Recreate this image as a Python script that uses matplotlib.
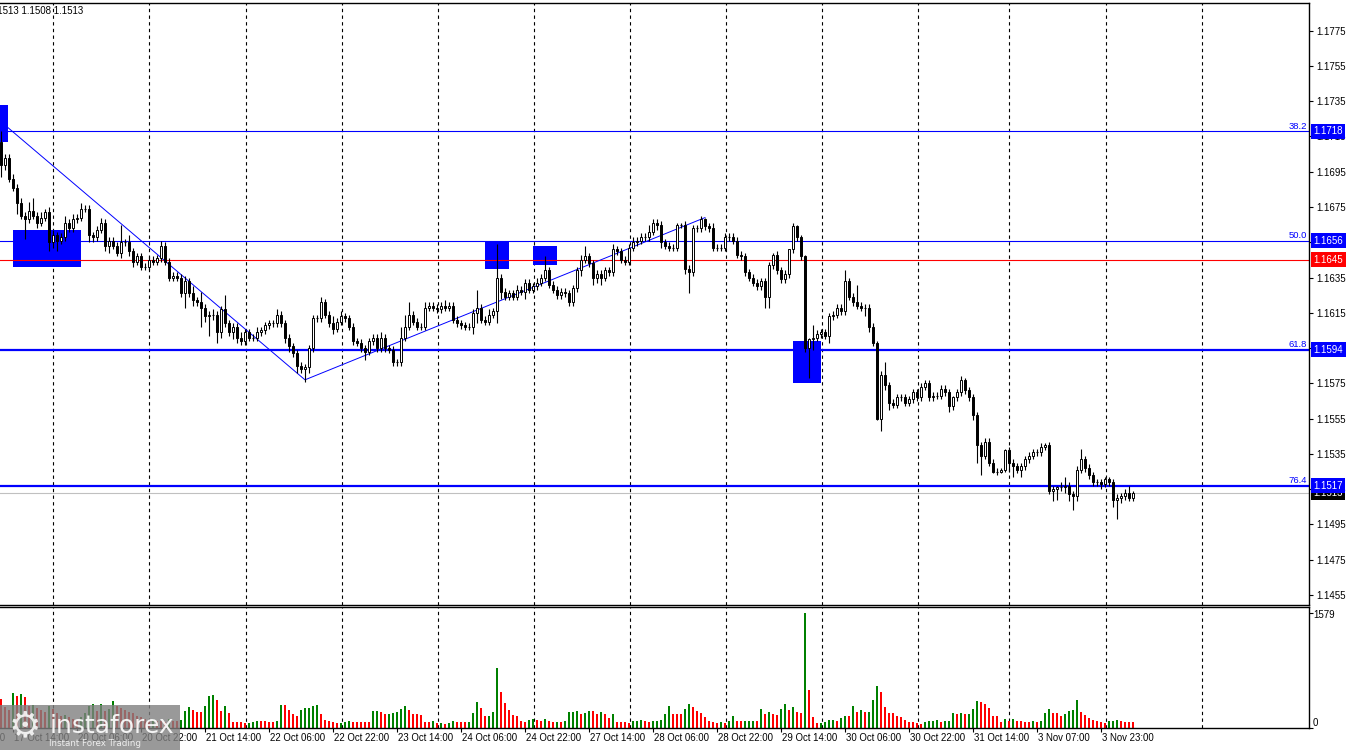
import numpy as np
import matplotlib
matplotlib.use("Agg")
import matplotlib.pyplot as plt
import matplotlib.transforms as mtrans
from matplotlib.patches import Rectangle

plt.rcParams['font.family'] = ['Liberation Sans', 'DejaVu Sans']

# ---------------- data (EURUSD H1) ----------------
first_open = 1.1712
close = [
    1.1699, 1.1703, 1.1691, 1.1686, 1.1677, 1.1670, 1.1668, 1.1673, 1.1670, 1.1666,
    1.1669, 1.1672, 1.1655, 1.1659, 1.1656, 1.1658, 1.1666, 1.1663, 1.1668, 1.1669,
    1.1674, 1.1674, 1.1659, 1.1658, 1.1662, 1.1666, 1.1653, 1.1656, 1.1653, 1.1649,
    1.1655, 1.1655, 1.1650, 1.1644, 1.1647, 1.1641, 1.1641, 1.1645, 1.1644, 1.1646,
    1.1653, 1.1644, 1.1635, 1.1636, 1.1635, 1.1626, 1.1633, 1.1626, 1.1622, 1.1621,
    1.1618, 1.1613, 1.1614, 1.1614, 1.1604, 1.1617, 1.1609, 1.1604, 1.1607, 1.1601,
    1.1599, 1.1604, 1.1601, 1.1601, 1.1604, 1.1605, 1.1608, 1.1609, 1.1609, 1.1614,
    1.1609, 1.1601, 1.1596, 1.1592, 1.1585, 1.1583, 1.1584, 1.1595, 1.1612, 1.1612,
    1.1621, 1.1614, 1.1609, 1.1606, 1.1610, 1.1613, 1.1612, 1.1607, 1.1599, 1.1598,
    1.1595, 1.1593, 1.1599, 1.1601, 1.1595, 1.1601, 1.1595, 1.1594, 1.1587, 1.1587,
    1.1601, 1.1607, 1.1614, 1.1610, 1.1607, 1.1607, 1.1618, 1.1619, 1.1618, 1.1617,
    1.1619, 1.1618, 1.1619, 1.1611, 1.1609, 1.1608, 1.1607, 1.1607, 1.1615, 1.1618,
    1.1611, 1.1610, 1.1614, 1.1616, 1.1635, 1.1627, 1.1624, 1.1626, 1.1624, 1.1628,
    1.1627, 1.1632, 1.1628, 1.1630, 1.1632, 1.1635, 1.1639, 1.1631, 1.1628, 1.1625,
    1.1627, 1.1626, 1.1621, 1.1629, 1.1639, 1.1645, 1.1647, 1.1643, 1.1635, 1.1637,
    1.1635, 1.1639, 1.1638, 1.1651, 1.1650, 1.1645, 1.1644, 1.1652, 1.1655, 1.1656,
    1.1658, 1.1658, 1.1661, 1.1666, 1.1665, 1.1655, 1.1653, 1.1652, 1.1652, 1.1665,
    1.1665, 1.1640, 1.1638, 1.1663, 1.1663, 1.1668, 1.1664, 1.1663, 1.1652, 1.1652,
    1.1652, 1.1658, 1.1658, 1.1656, 1.1648, 1.1647, 1.1638, 1.1635, 1.1632, 1.1630,
    1.1633, 1.1624, 1.1642, 1.1648, 1.1639, 1.1634, 1.1637, 1.1651, 1.1664, 1.1658,
    1.1647, 1.1595, 1.1600, 1.1601, 1.1603, 1.1604, 1.1602, 1.1613, 1.1614, 1.1618,
    1.1616, 1.1633, 1.1624, 1.1621, 1.1619, 1.1618, 1.1618, 1.1607, 1.1598, 1.1555,
    1.1580, 1.1574, 1.1564, 1.1563, 1.1567, 1.1567, 1.1564, 1.1566, 1.1570, 1.1567,
    1.1573, 1.1575, 1.1567, 1.1568, 1.1568, 1.1572, 1.1570, 1.1562, 1.1567, 1.1570,
    1.1577, 1.1571, 1.1567, 1.1557, 1.1540, 1.1534, 1.1542, 1.1530, 1.1525, 1.1525,
    1.1526, 1.1537, 1.1530, 1.1528, 1.1526, 1.1528, 1.1532, 1.1534, 1.1536, 1.1536,
    1.1539, 1.1540, 1.1514, 1.1515, 1.1516, 1.1516, 1.1517, 1.1512, 1.1511, 1.1526,
    1.1532, 1.1527, 1.1523, 1.1519, 1.1519, 1.1518, 1.1521, 1.1519, 1.1509, 1.1510,
    1.1511, 1.1513, 1.1510, 1.1513,
]
upper_wick_pips = [
    6, 2, 2, 3, 2, 3, 2, 5, 7, 2,   3, 2, 3, 3, 2, 2, 4, 2, 3, 2,
    3, 2, 2, 2, 2, 3, 2, 2, 2, 2,   10, 2, 4, 2, 2, 2, 2, 2, 2, 2,
    3, 2, 2, 2, 2, 2, 3, 2, 4, 2,   6, 2, 2, 3, 2, 2, 8, 2, 2, 2,
    3, 2, 2, 2, 3, 2, 2, 2, 2, 3,   2, 2, 2, 2, 2, 2, 2, 2, 2, 2,
    3, 2, 2, 4, 2, 3, 2, 2, 2, 2,   2, 2, 2, 2, 2, 3, 2, 2, 2, 2,
    6, 7, 7, 2, 2, 2, 3, 2, 2, 2,   2, 3, 2, 2, 2, 2, 2, 2, 2, 10,
    2, 2, 3, 2, 19, 2, 2, 2, 2, 3,  2, 2, 2, 2, 3, 2, 8, 2, 2, 2,
    2, 2, 2, 2, 2, 3, 6, 2, 2, 2,   2, 2, 2, 3, 2, 2, 2, 2, 3, 2,
    2, 2, 4, 2, 2, 2, 2, 2, 2, 1,   1, 2, 2, 2, 2, 2, 1, 2, 3, 2,
    2, 2, 2, 2, 2, 2, 2, 2, 2, 2,   2, 2, 2, 1, 2, 2, 2, 0, 2, 1,
    1, 1, 1, 7, 2, 2, 2, 2, 2, 2,   2, 6, 2, 2, 10, 2, 2, 2, 2, 1,
    2, 7, 2, 2, 2, 2, 2, 2, 2, 2,   2, 2, 2, 2, 2, 2, 2, 2, 1, 2,
    2, 1, 2, 2, 2, 2, 2, 2, 2, 2,   1, 1, 2, 2, 2, 2, 2, 2, 2, 2,
    2, 1, 2, 2, 1, 3, 5, 2, 2, 2,   6, 2, 2, 2, 2, 2, 1, 1, 2, 2,
    2, 2, 4, 1,
]
lower_wick_pips = [
    7, 3, 2, 2, 6, 2, 11, 2, 2, 3,  2, 2, 5, 3, 6, 2, 2, 2, 2, 2,
    2, 2, 4, 3, 2, 2, 3, 4, 2, 2,   3, 2, 3, 3, 2, 2, 2, 2, 2, 2,
    2, 2, 2, 2, 2, 2, 8, 2, 3, 2,   11, 3, 11, 3, 6, 3, 2, 2, 4, 3,
    2, 2, 2, 2, 2, 2, 2, 2, 2, 2,   2, 3, 3, 2, 4, 2, 7, 3, 2, 2,
    2, 2, 2, 3, 2, 2, 2, 2, 2, 2,   2, 5, 2, 2, 2, 2, 2, 2, 2, 2,
    2, 2, 2, 2, 2, 2, 2, 2, 2, 2,   2, 2, 2, 2, 2, 2, 2, 2, 4, 6,
    2, 2, 2, 2, 7, 4, 2, 2, 2, 2,   2, 4, 2, 2, 2, 2, 2, 2, 2, 2,
    2, 2, 2, 2, 2, 3, 2, 2, 4, 3,   4, 2, 2, 2, 2, 2, 2, 2, 2, 2,
    2, 2, 2, 2, 3, 3, 2, 2, 2, 2,   2, 3, 12, 2, 2, 2, 2, 2, 2, 2,
    2, 2, 2, 2, 2, 2, 2, 2, 2, 2,   2, 6, 6, 2, 2, 2, 2, 2, 2, 2,
    2, 2, 17, 6, 2, 2, 2, 4, 2, 2,  2, 2, 2, 2, 2, 2, 5, 3, 2, 1,
    7, 3, 4, 2, 2, 2, 2, 2, 2, 2,   2, 2, 2, 2, 2, 2, 2, 3, 2, 2,
    2, 2, 2, 3, 10, 11, 2, 2, 1, 2, 1, 1, 5, 6, 2, 4, 2, 2, 2, 2,
    2, 2, 2, 6, 6, 2, 3, 4, 8, 3,   2, 2, 2, 2, 2, 3, 2, 2, 4, 11,
    3, 2, 2, 2,
]
volume = [
    400, 290, 250, 480, 440, 460, 430, 300, 320, 280,
    250, 220, 300, 260, 200, 160, 180, 150, 130, 110,
    150, 200, 300, 330, 240, 330, 230, 260, 370, 300,
    280, 250, 220, 200, 170, 150, 120, 100, 130, 100,
    90, 80, 120, 100, 90, 114, 228, 288, 251, 219,
    215, 297, 434, 447, 388, 237, 306, 205, 87, 85,
    78, 65, 68, 78, 100, 96, 91, 87, 85, 100,
    320, 311, 251, 187, 160, 251, 274, 278, 306, 320,
    192, 114, 100, 78, 64, 68, 82, 91, 88, 84,
    80, 78, 76, 237, 240, 215, 192, 196, 205, 215,
    260, 306, 251, 192, 187, 185, 87, 82, 90, 62,
    64, 60, 70, 100, 87, 80, 78, 87, 201, 352,
    279, 160, 169, 215, 822, 498, 347, 251, 183, 160,
    91, 87, 105, 123, 105, 100, 123, 91, 78, 87,
    78, 100, 215, 224, 237, 187, 201, 237, 233, 187,
    215, 192, 137, 187, 87, 78, 76, 68, 91, 100,
    114, 100, 82, 91, 95, 114, 196, 297, 196, 192,
    190, 265, 329, 283, 237, 201, 155, 91, 87, 68,
    82, 70, 91, 160, 91, 90, 95, 97, 100, 97,
    265, 187, 215, 187, 185, 265, 333, 242, 283, 219,
    205, 1579, 525, 151, 68, 75, 78, 105, 107, 100,
    137, 169, 160, 297, 215, 251, 215, 224, 388, 580,
    498, 283, 205, 200, 160, 155, 105, 87, 78, 68,
    60, 87, 100, 102, 104, 78, 100, 102, 205, 196,
    200, 187, 196, 260, 374, 352, 333, 274, 169, 165,
    87, 123, 91, 123, 95, 93, 78, 76, 100, 78,
    100, 205, 260, 205, 200, 169, 187, 237, 242, 388,
    219, 178, 137, 114, 91, 87, 68, 100, 102, 114,
    91, 87, 85, 82,
]

fib_prices = [1.1718, 1.1656, 1.1594, 1.1517]
fib_names = ["38.2", "50.0", "61.8", "76.4"]
fib_thick = [False, False, True, True]
red_level = 1.1645
last_price = 1.1513
header_text = "1.1513 1.1513 1.1508 1.1513"

zigzag_bars = [1.75, 76, 176]
zigzag_prices = [1.1720, 1.1577, 1.1669]

signal_bar_from = [-0.25, 2.9, 121.0, 133.1, 198.0]
signal_bar_to = [1.75, 19.9, 127.0, 138.9, 205.0]
signal_low = [1.1712, 1.1641, 1.1640, 1.1642, 1.1575]
signal_high = [1.1733, 1.1662, 1.1655, 1.1653, 1.1599]

time_label_bars = [-13, 3, 19, 35, 51, 67, 83, 99, 115, 131, 147, 163, 179,
                   195, 211, 227, 243, 259, 275]
time_labels = ["16 Oct 22:00", "17 Oct 14:00", "20 Oct 06:00", "20 Oct 22:00",
               "21 Oct 14:00", "22 Oct 06:00", "22 Oct 22:00", "23 Oct 14:00",
               "24 Oct 06:00", "24 Oct 22:00", "27 Oct 14:00", "28 Oct 06:00",
               "28 Oct 22:00", "29 Oct 14:00", "30 Oct 06:00", "30 Oct 22:00",
               "31 Oct 14:00", "3 Nov 07:00", "3 Nov 23:00"]
grid_bars = [13.1, 37.1, 61.2, 85.2, 109.2, 133.2, 157.2, 181.2, 205.2,
             229.2, 252.0, 276.2, 300.25]
price_ticks = [1.1455, 1.1475, 1.1495, 1.1515, 1.1535, 1.1555, 1.1575, 1.1595,
               1.1615, 1.1635, 1.1655, 1.1675, 1.1695, 1.1715, 1.1735, 1.1755,
               1.1775]
volume_scale_label = "1579"

# ---------------- figure ----------------
W, H = 1350, 750
fig = plt.figure(figsize=(W / 100, H / 100), dpi=100, facecolor="white")


def fx(px):
    return px / W


def fy(py):
    return 1 - py / H


ax = fig.add_axes([0, fy(605), fx(1309), (605 - 3) / H])
axv = fig.add_axes([0, fy(728), fx(1309), (728 - 607) / H])

n = min(len(close), len(upper_wick_pips), len(lower_wick_pips), len(volume))
idx = np.arange(n)
c = np.array(close[:n])
o = np.r_[first_open, c[:-1]]
hi = np.maximum(o, c) + np.array(upper_wick_pips[:n]) / 1e4
lo = np.minimum(o, c) - np.array(lower_wick_pips[:n]) / 1e4

xlim = (-0.25, 327.0)
for a in (ax, axv):
    a.set_facecolor("white")
    a.spines["left"].set_visible(False)
    for s in ("top", "right", "bottom"):
        a.spines[s].set_color("black")
        a.spines[s].set_linewidth(1.0)
    for g in grid_bars:
        a.axvline(g, color="black", lw=0.8, ls=(0, (3, 3)), zorder=0.5)

ax.set_xticks([])
ax.yaxis.tick_right()
ax.set_yticks(price_ticks)
ax.set_yticklabels([f"{t:.4f}" for t in price_ticks])
ax.tick_params(axis="y", length=3, width=0.8, labelsize=7.0, pad=2, colors="black")

# signal rectangles
for x0, x1, pl, ph in zip(signal_bar_from, signal_bar_to, signal_low, signal_high):
    ax.add_patch(Rectangle((x0, pl), x1 - x0, ph - pl, facecolor="#0000ff",
                           edgecolor="none", zorder=1))

# levels
for p, thick in zip(fib_prices, fib_thick):
    ax.axhline(p, color="#0000ff", lw=1.6 if thick else 0.8, zorder=2)
ax.axhline(red_level, color="#ff0000", lw=0.8, zorder=2)
ax.axhline(last_price, color="#c0c0c0", lw=0.8, zorder=1.8)

# zigzag
ax.plot(zigzag_bars, zigzag_prices, color="#0000ff", lw=0.7, zorder=2.2)

# candles
ax.vlines(idx, lo, hi, color="black", lw=0.8, zorder=3)
bull = c > o
bear = c < o
doji = c == o
ax.bar(idx[bull], (c - o)[bull], bottom=o[bull], width=0.55, facecolor="white",
       edgecolor="black", linewidth=0.7, zorder=4)
ax.bar(idx[bear], (c - o)[bear], bottom=o[bear], width=0.55, facecolor="black",
       edgecolor="black", linewidth=0.7, zorder=4)
ax.hlines(c[doji], idx[doji] - 0.35, idx[doji] + 0.35, color="black", lw=0.8, zorder=4)

# right side labels
bt = mtrans.blended_transform_factory(fig.transFigure, ax.transData)
for p, name in zip(fib_prices, fib_names):
    ax.text(fx(1307), p + 0.00003, name, transform=bt, ha="right", va="bottom",
            color="#0000ff", fontsize=6.8, zorder=20, clip_on=False)
    ax.text(fx(1313.5), p, f"{p:.4f}", transform=bt, ha="left", va="center",
            color="white", fontsize=7.0, zorder=20, clip_on=False,
            bbox=dict(boxstyle="square,pad=0.25", fc="#0000ff", ec="none"))
ax.text(fx(1313.5), red_level, f"{red_level:.4f}", transform=bt, ha="left",
        va="center", color="white", fontsize=7.0, zorder=20, clip_on=False,
        bbox=dict(boxstyle="square,pad=0.25", fc="#ff0000", ec="none"))
ax.text(fx(1313.5), last_price - 0.00002, f"{last_price:.4f}", transform=bt,
        ha="left", va="center", color="white", fontsize=7.0, zorder=19,
        clip_on=False, bbox=dict(boxstyle="square,pad=0.25", fc="black", ec="none"))

# volumes
v = np.array(volume[:n], dtype=float)
vcol = ["#ff0000"] + ["#008000" if v[i] > v[i - 1] else "#ff0000" for i in range(1, n)]
axv.bar(idx, v, width=0.7, color=vcol, zorder=2)
axv.yaxis.tick_right()
axv.set_yticks([0, float(volume_scale_label)])
axv.set_yticklabels([])
axv.tick_params(axis="y", length=3, width=0.8)
fig.text(fx(1313), fy(615), volume_scale_label, ha="left", va="center", fontsize=7.0)
fig.text(fx(1313), fy(723), "0", ha="left", va="center", fontsize=7.0)

axv.set_xticks(time_label_bars)
axv.tick_params(axis="x", length=3, width=0.8, direction="out", labelbottom=False)

# limits last (set_xticks may expand them)
ax.set_xlim(*xlim)
axv.set_xlim(*xlim)
ax.set_ylim(1.14493, 1.17907)
axv.set_ylim(0, 1660)

bx = mtrans.blended_transform_factory(axv.transData, fig.transFigure)
for b, lab in zip(time_label_bars, time_labels):
    axv.text(b + 0.3, fy(738), lab, transform=bx, ha="left", va="center",
             fontsize=6.9, color="black", clip_on=False)

# header
fig.text(fx(83), fy(11), header_text, ha="right", va="center", fontsize=7.0, color="black")

# watermark
wm = fig.dpi_scale_trans
fig.add_artist(Rectangle((0, 0), 1.80, 0.45, transform=wm, facecolor="#808080",
                         edgecolor="none", alpha=0.8, zorder=50))
fig.text(0.25, 0.24, "\u2699", transform=wm, ha="center", va="center",
         fontsize=26, color="white", alpha=0.85, family="DejaVu Sans", zorder=51)
fig.text(0.50, 0.24, "instaforex", transform=wm, ha="left", va="center",
         fontsize=18, color="white", alpha=0.9, family="DejaVu Sans", zorder=51)
fig.text(0.49, 0.07, "Instant Forex Trading", transform=wm, ha="left", va="center",
         fontsize=6.3, color="#eeeeee", family="DejaVu Sans", zorder=51)

fig.savefig("out.png", dpi=100, facecolor="white")
